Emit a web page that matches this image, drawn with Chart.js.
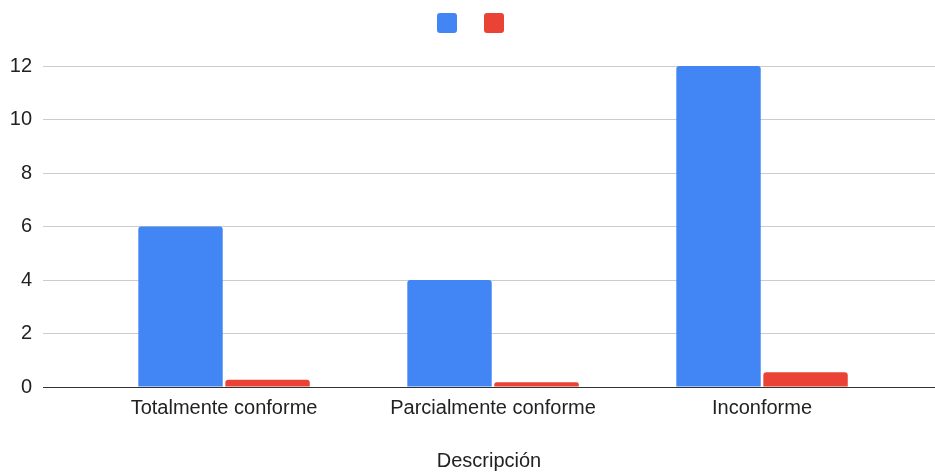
<!DOCTYPE html>
<html>
<head>
<meta charset="utf-8">
<title>Descripción</title>
<script src="https://cdn.jsdelivr.net/npm/chart.js@4.4.1/dist/chart.umd.min.js"></script>
<style>
  html, body { margin: 0; padding: 0; background: #fff; }
  canvas { display: block; }
</style>
</head>
<body>
<canvas id="descripcion-barchart" width="935" height="472"></canvas>
<script>
// Datos del grafico
var categorias = ['Totalmente conforme', 'Parcialmente conforme', 'Inconforme'];
var cantidades = [6, 4, 12];
var proporciones = [0.27, 0.18, 0.55];
var ticks_y = [0, 2, 4, 6, 8, 10, 12];

Chart.defaults.font.family = '"Liberation Sans", Arial, sans-serif';
Chart.defaults.font.size = 20;
Chart.defaults.color = '#222';

// deja aire entre la leyenda y el area del grafico
var margenLeyenda = {
  id: 'margenLeyenda',
  beforeInit: function(chart) {
    var fitOriginal = chart.legend.fit;
    chart.legend.fit = function() {
      fitOriginal.bind(chart.legend)();
      this.height += 23;
    };
  }
};

new Chart(document.getElementById("descripcion-barchart").getContext('2d'), {
  type: 'bar',
  data: {
    labels: categorias.map(function(c, i) { return i; }),
    datasets: [{
        data: cantidades,
        label: ' ',
        backgroundColor: '#4285f4',
        borderRadius: 3,
        categoryPercentage: 0.647,
        barPercentage: 0.97
      }, {
        data: proporciones,
        label: ' ',
        backgroundColor: '#ea4335',
        borderRadius: 3,
        categoryPercentage: 0.647,
        barPercentage: 0.97
      }
    ]
  },
  plugins: [margenLeyenda],
  options: {
    responsive: false,
    animation: false,
    layout: {
      // la leyenda queda un poco corrida a la derecha
      padding: { left: 10, right: -10, top: 0, bottom: 0 }
    },
    plugins: {
      legend: {
        position: 'top',
        labels: {
          boxWidth: 20,
          boxHeight: 20,
          padding: 13,
          useBorderRadius: true,
          borderRadius: 3,
          font: { size: 18 }
        }
      },
      tooltip: { enabled: false }
    },
    scales: {
      x: {
        type: 'linear',
        offset: false,
        min: -0.673,
        max: 2.643,
        grid: { display: false, drawTicks: false },
        border: { display: false },
        ticks: {
          stepSize: 1,
          includeBounds: false,
          autoSkip: false,
          maxRotation: 0,
          padding: 9,
          callback: function(value) {
            return categorias[value] || '';
          }
        },
        title: {
          display: true,
          text: 'Descripción',
          padding: { top: 20, bottom: -1 }
        }
      },
      y: {
        min: ticks_y[0],
        max: ticks_y[ticks_y.length - 1],
        border: { display: false },
        grid: {
          drawTicks: false,
          color: function(ctx) {
            return ctx.tick && ctx.tick.value === 0 ? '#333333' : '#cccccc';
          }
        },
        ticks: {
          stepSize: ticks_y[1] - ticks_y[0],
          padding: 11
        },
        afterFit: function(scale) {
          scale.width = 33;
        }
      }
    }
  }
});
</script>
</body>
</html>
